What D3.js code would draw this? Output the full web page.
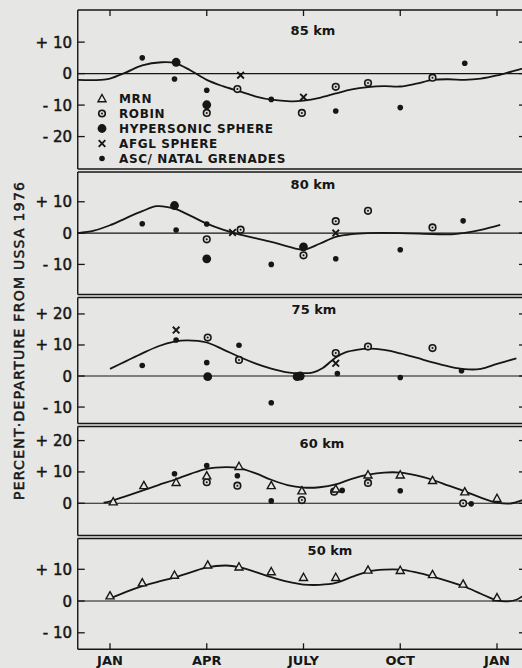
<!DOCTYPE html>
<html lang="en">
<head>
  <meta charset="UTF-8">
  <title>Percent departure from USSA 1976</title>
  <style>
    body { margin: 0; background: #e6e6e4; }
    svg { display: block; }
    text { font-family: "DejaVu Sans", sans-serif; fill: #161616; }
  </style>
</head>
<body>
<div id="output"></div>
</body>
<script src="https://cdn.jsdelivr.net/npm/d3@7"></script>

<script type="text/javascript">
  const monthLabels = ["JAN", "APR", "JULY", "OCT", "JAN"];
  const monthTicks = [0, 3, 6, 9, 12];
  const altitudes = [85, 80, 75, 60, 50];

  const ticks85 = [10, 0, -10, -20];
  const ticks80 = [10, 0, -10];
  const ticks75 = [20, 10, 0, -10];
  const ticks60 = [20, 10, 0];
  const ticks50 = [10, 0, -10];

  // [month, percent]
  const curve85 = [[-1, -2], [-0.3, -2], [0, -1.6], [0.5, 0.4], [1, 2.6], [1.6, 3.6], [2, 3.4], [2.5, 1.0], [3, -2.0],
    [3.5, -4.0], [4, -5.6], [4.5, -7.2], [5, -8.3], [5.6, -8.8], [6, -8.6], [6.5, -7.7], [7, -6.3], [7.5, -5.0],
    [8, -4.3], [8.5, -4.0], [9, -4.1], [9.5, -3.2], [10, -2.0], [10.5, -1.8], [11, -2.0], [11.5, -1.6], [12, -0.6],
    [12.5, 0.8], [13, 2.2]];
  const curve80 = [[-1, 0], [-0.5, 0.8], [0, 2.5], [0.5, 4.8], [1, 7.0], [1.45, 8.6], [2, 7.8], [2.5, 5.5], [3, 3.0],
    [3.5, 1.1], [4, -0.4], [4.5, -1.6], [5, -2.8], [5.5, -4.2], [6, -5.3], [6.5, -3.4], [7, -1.2], [7.5, -0.3],
    [8, 0], [9, 0], [10, -0.3], [10.6, -0.4], [11, 0.1], [11.5, 1.0], [12.1, 2.6]];
  const curve75 = [[0, 2.3], [0.5, 4.8], [1, 7.3], [1.5, 9.6], [2, 11.1], [2.4, 11.5], [3, 10.8], [3.5, 8.6], [4, 6.2],
    [4.5, 4.1], [5, 2.4], [5.5, 1.2], [5.9, 0.9], [6.3, 1.2], [6.6, 2.6], [7, 6.0], [7.3, 7.6], [7.7, 8.5], [8, 8.8],
    [8.5, 8.4], [9, 7.3], [9.5, 5.9], [10, 4.4], [10.5, 3.1], [11, 2.2], [11.5, 2.3], [12, 3.9], [12.6, 5.7]];
  const curve60 = [[-0.2, 0.2], [0, 0.6], [0.5, 2.3], [1, 4.0], [1.5, 5.8], [2, 7.5], [2.5, 9.4], [3, 11.0], [3.6, 11.5],
    [4, 11.2], [4.5, 9.6], [5, 7.5], [5.5, 5.8], [6, 5.0], [6.5, 5.1], [7, 6.0], [7.5, 7.8], [8, 9.1], [8.5, 9.8],
    [9, 9.8], [9.5, 8.9], [10, 7.5], [10.5, 5.6], [11, 3.8], [11.5, 1.8], [12, 0.2], [12.4, -0.1], [13, 1.8]];
  const curve50 = [[0, 0.8], [0.5, 2.9], [1, 4.7], [1.5, 6.1], [2, 7.4], [2.5, 9.0], [3, 10.6], [3.6, 11.2], [4, 10.7],
    [4.5, 9.2], [5, 7.5], [5.5, 6.1], [6, 5.2], [6.5, 5.1], [7, 5.7], [7.5, 7.6], [8, 9.3], [8.5, 9.9], [9, 9.9],
    [9.5, 9.0], [10, 7.7], [10.5, 6.2], [11, 4.5], [11.5, 2.3], [12, 0.2], [12.3, -0.1], [12.6, 0.4], [13, 3.2]];

  const grenade85 = [[1.0, 5.0], [2.0, -1.7], [3.0, -5.3], [5.0, -8.2], [7.0, -11.9], [9.0, -10.8], [11.0, 3.3]];
  const hyper85 = [[2.05, 3.6], [3.0, -9.9]];
  const robin85 = [[3.0, -12.5], [3.95, -4.9], [5.95, -12.5], [7.0, -4.2], [8.0, -3.0], [10.0, -1.3]];
  const afgl85 = [[4.05, -0.5], [6.0, -7.5]];

  const grenade80 = [[1.0, 3.0], [2.05, 1.0], [3.0, 2.9], [5.0, -10.0], [7.0, -8.2], [9.0, -5.3], [10.95, 3.9]];
  const hyper80 = [[2.0, 8.8], [3.0, -8.2], [6.0, -4.4]];
  const robin80 = [[3.0, -2.0], [4.05, 1.1], [6.0, -7.1], [7.0, 3.8], [8.0, 7.1], [10.0, 1.8]];
  const afgl80 = [[3.8, 0.2], [7.0, 0]];

  const grenade75 = [[1.0, 3.4], [2.05, 11.6], [3.0, 4.3], [4.0, 9.9], [5.0, -8.6], [7.05, 0.8], [9.0, -0.5], [10.9, 1.7]];
  const hyper75 = [[3.03, -0.2], [5.8, -0.2], [5.9, 0]];
  const robin75 = [[3.03, 12.4], [4.0, 5.2], [7.0, 7.4], [8.0, 9.5], [10.0, 9.0]];
  const afgl75 = [[2.05, 14.8], [7.0, 4.1]];

  const mrn60 = [[0.1, 0.5], [1.05, 5.7], [2.05, 6.7], [3.0, 8.8], [4.0, 11.8], [5.0, 5.7], [5.95, 4.0], [7.0, 4.6],
    [8.0, 9.1], [9.0, 9.1], [10.0, 7.3], [11.0, 3.7], [12.0, 1.6]];
  const robin60 = [[3.0, 6.7], [3.95, 5.6], [5.95, 1.0], [6.95, 3.7], [8.0, 6.5], [10.95, 0]];
  const grenade60 = [[2.0, 9.4], [3.0, 12.0], [3.95, 8.8], [5.0, 0.75], [7.2, 4.1], [9.0, 4.0], [11.2, -0.2]];

  const mrn50 = [[0, 1.7], [1.0, 5.8], [2.0, 8.2], [3.03, 11.4], [4.0, 10.8], [5.0, 9.3], [6.0, 7.5], [7.0, 7.5],
    [8.0, 9.8], [9.0, 9.7], [10.0, 8.4], [10.95, 5.4], [12.0, 1.1]];

  const legendNames = ["MRN", "ROBIN", "HYPERSONIC SPHERE", "AFGL SPHERE", "ASC/ NATAL GRENADES"];
  const legendKeys = ["mrn", "robin", "hyper", "afgl", "grenade"];

  const panels = [
    {alt: 85, top: 10, bottom: 169, domain: [-30.3, 20.2], ticks: ticks85, curve: curve85,
      series: {grenade: grenade85, hyper: hyper85, robin: robin85, afgl: afgl85}, labelX: 313, labelY: 35},
    {alt: 80, top: 172, bottom: 294.5, domain: [-19.6, 19.5], ticks: ticks80, curve: curve80,
      series: {grenade: grenade80, hyper: hyper80, robin: robin80, afgl: afgl80}, labelX: 313, labelY: 189},
    {alt: 75, top: 297.5, bottom: 423.5, domain: [-15.3, 25.3], ticks: ticks75, curve: curve75,
      series: {grenade: grenade75, hyper: hyper75, robin: robin75, afgl: afgl75}, labelX: 314, labelY: 314},
    {alt: 60, top: 426.5, bottom: 535.5, domain: [-10.3, 24.5], ticks: ticks60, curve: curve60,
      series: {mrn: mrn60, robin: robin60, grenade: grenade60}, labelX: 322, labelY: 448},
    {alt: 50, top: 538.5, bottom: 649.3, domain: [-15.2, 19.7], ticks: ticks50, curve: curve50,
      series: {mrn: mrn50}, labelX: 330, labelY: 555},
  ];

  const W = 522, H = 668;
  const ink = "#161616";
  const x = d3.scaleLinear().domain([-1, 12]).range([77.75, 497]);
  const xLeft = x(-1), xRight = x(12.9);

  const svg = d3.select("#output").append("svg")
    .attr("width", W).attr("height", H);

  function marker(g, kind, px, py) {
    if (kind === "grenade") {
      g.append("circle").attr("cx", px).attr("cy", py).attr("r", 2.8).style("fill", ink);
    } else if (kind === "hyper") {
      g.append("circle").attr("cx", px).attr("cy", py).attr("r", 4.4).style("fill", ink);
    } else if (kind === "robin") {
      g.append("circle").attr("cx", px).attr("cy", py).attr("r", 3.3)
        .style("fill", "#d8d8d6").style("stroke", ink).style("stroke-width", 1.6);
      g.append("circle").attr("cx", px).attr("cy", py).attr("r", 1).style("fill", ink);
    } else if (kind === "afgl") {
      const s = 3.3;
      g.append("path")
        .attr("d", `M${px - s},${py - s}L${px + s},${py + s}M${px + s},${py - s}L${px - s},${py + s}`)
        .style("stroke", ink).style("stroke-width", 1.9).style("fill", "none");
    } else if (kind === "mrn") {
      const s = 4;
      g.append("path")
        .attr("d", `M${px},${py - s}L${px + s},${py + s * 0.8}L${px - s},${py + s * 0.8}Z`)
        .style("stroke", ink).style("stroke-width", 1.4).style("fill", "#e6e6e4");
    }
  }

  panels.forEach(function (p) {
    const y = d3.scaleLinear().domain(p.domain).range([p.bottom, p.top]);
    const g = svg.append("g");

    // frame
    g.append("line").attr("x1", xLeft).attr("x2", xRight).attr("y1", p.top).attr("y2", p.top)
      .style("stroke", ink).style("stroke-width", 1.4);
    g.append("line").attr("x1", xLeft).attr("x2", xRight).attr("y1", p.bottom).attr("y2", p.bottom)
      .style("stroke", ink).style("stroke-width", 1.4);
    g.append("line").attr("x1", xLeft).attr("x2", xLeft).attr("y1", p.top).attr("y2", p.bottom)
      .style("stroke", ink).style("stroke-width", 1.4);
    g.append("line").attr("x1", xRight).attr("x2", xRight).attr("y1", p.top).attr("y2", p.bottom)
      .style("stroke", ink).style("stroke-width", 1.4);

    // zero line
    g.append("line").attr("x1", xLeft).attr("x2", xRight).attr("y1", y(0)).attr("y2", y(0))
      .style("stroke", ink).style("stroke-width", 1.1);

    p.ticks.forEach(function (t) {
      g.append("line").attr("x1", xLeft).attr("x2", xLeft + 7).attr("y1", y(t)).attr("y2", y(t))
        .style("stroke", ink).style("stroke-width", 1.3);
      g.append("line").attr("x1", xRight - 7).attr("x2", xRight).attr("y1", y(t)).attr("y2", y(t))
        .style("stroke", ink).style("stroke-width", 1.3);
      g.append("text")
        .attr("x", 72).attr("y", y(t) + 5.5)
        .attr("text-anchor", "end")
        .style("font-size", "15px")
        .style("stroke", ink).style("stroke-width", 0.5)
        .text(t > 0 ? "+ " + t : t < 0 ? "- " + (-t) : "0");
    });

    g.append("text")
      .attr("x", p.labelX).attr("y", p.labelY)
      .attr("text-anchor", "middle")
      .style("font-size", "13px").style("font-weight", "bold")
      .text(p.alt + " km");

    const line = d3.line()
      .x(d => x(d[0])).y(d => y(d[1]))
      .curve(d3.curveCatmullRom.alpha(0.5));
    g.append("path").datum(p.curve)
      .attr("d", line)
      .style("fill", "none").style("stroke", ink).style("stroke-width", 1.8);

    ["robin", "mrn", "hyper", "afgl", "grenade"].forEach(function (k) {
      (p.series[k] || []).forEach(function (d) {
        marker(g, k, x(d[0]), y(d[1]));
      });
    });
  });

  // month ticks and labels
  const topY = panels[0].top, botY = panels[4].bottom;
  monthTicks.forEach(function (m, i) {
    svg.append("line").attr("x1", x(m)).attr("x2", x(m)).attr("y1", topY).attr("y2", topY + 6)
      .style("stroke", ink).style("stroke-width", 1.3);
    svg.append("line").attr("x1", x(m)).attr("x2", x(m)).attr("y1", botY - 6).attr("y2", botY)
      .style("stroke", ink).style("stroke-width", 1.3);
    svg.append("text")
      .attr("x", x(m)).attr("y", 665)
      .attr("text-anchor", "middle")
      .style("font-size", "13px").style("font-weight", "bold")
      .text(monthLabels[i]);
  });

  // legend
  const legend = svg.append("g");
  legendNames.forEach(function (name, i) {
    const ly = 98.5 + i * 15;
    marker(legend, legendKeys[i], 102, ly);
    legend.append("text")
      .attr("x", 119).attr("y", ly + 4.5)
      .style("font-size", "12px").style("font-weight", "bold")
      .style("letter-spacing", "0.6px")
      .text(name);
  });

  // y title
  svg.append("text")
    .attr("transform", "translate(24,341) rotate(-90)")
    .attr("text-anchor", "middle")
    .attr("textLength", 318)
    .attr("lengthAdjust", "spacing")
    .style("font-size", "14px")
    .style("stroke", ink).style("stroke-width", 0.5)
    .text("PERCENT·DEPARTURE FROM USSA 1976");
</script>

</html>
